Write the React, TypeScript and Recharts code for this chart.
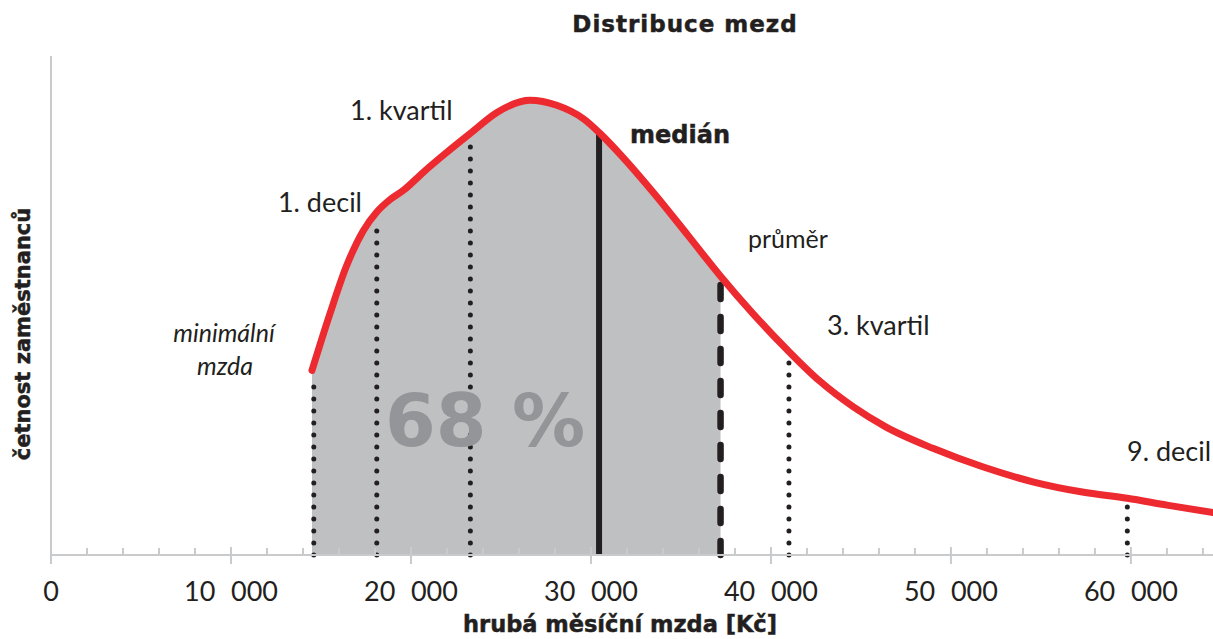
import { ComposedChart, Line, Area, XAxis, YAxis, ReferenceLine } from 'recharts';

// wage distribution curve (Kč / relative frequency)
const wages = [
  14500, 15500, 16400, 17350, 18100, 18800, 19600, 20700, 21800, 23300, 24800, 26600, 28100, 29600,
  30500, 31700, 33500, 35400, 37200, 39000, 40900, 42700, 44600, 46400, 49000, 51800, 54600, 57300,
  59800, 62000, 64560,
];
const frequency = [
  2.96, 3.87, 4.62, 5.2, 5.5, 5.69, 5.85, 6.14, 6.41, 6.76, 7.1, 7.29, 7.21, 6.99,
  6.76, 6.4, 5.8, 5.12, 4.47, 3.87, 3.29, 2.79, 2.37, 2.05, 1.71, 1.41, 1.17, 1.01,
  0.91, 0.8, 0.68,
];

// shaded part of the distribution (min. wage .. average)
const shadedFrom = 14500;
const shadedTo = 37200;

const markerNames = ['minimální mzda', '1. decil', '1. kvartil', 'medián', 'průměr', '3. kvartil', '9. decil'];
const markerWages = [14600, 18100, 23300, 30450, 37200, 41000, 59800];
const markerHeights = [2.85, 5.21, 6.57, 6.75, 4.38, 3.09, 0.77];

const xTicks = [
  0, 2000, 4000, 6000, 8000, 10000, 12000, 14000, 16000, 18000, 20000, 22000, 24000, 26000, 28000, 30000,
  32000, 34000, 36000, 38000, 40000, 42000, 44000, 46000, 48000, 50000, 52000, 54000, 56000, 58000, 60000,
  62000, 64000,
];
const xLabelValues = [0, 10000, 20000, 30000, 40000, 50000, 60000];
const xLabels = ['0', '10 000', '20 000', '30 000', '40 000', '50 000', '60 000'];
const yTicks = [0, 1, 2, 3, 4, 5, 6, 7, 8];

const RED = '#ed2a2f';
const INK = '#231f20';
const AXIS = '#c9cacc';
const SHADE = '#bfc0c2';

const rows = wages.map((w, i) => ({
  wage: w,
  freq: frequency[i],
  shade: w >= shadedFrom && w <= shadedTo ? frequency[i] : null,
}));

function XTick(props: any) {
  const { x, y, payload } = props;
  const idx = xLabelValues.indexOf(payload.value);
  const major = idx >= 0;
  return (
    <g>
      <line x1={x} x2={x} y1={major ? y - 8 : y - 7} y2={major ? y + 9 : y} stroke={AXIS} strokeWidth={2} />
      {major && (
        <text x={x} y={y + 46} textAnchor="middle" fontFamily="Lato" fontSize={27} fill={INK}>
          {xLabels[idx].replace(' ', '\u2007')}
        </text>
      )}
    </g>
  );
}

function markerStroke(name: string) {
  if (name === 'medián') return { strokeWidth: 6, strokeDasharray: undefined, strokeLinecap: 'butt' as const };
  if (name === 'průměr') return { strokeWidth: 6.5, strokeDasharray: '14 18', strokeLinecap: 'round' as const };
  return { strokeWidth: 5, strokeDasharray: '0 12', strokeLinecap: 'round' as const };
}

export default function App() {
  const regular = { fontFamily: 'Lato', fontSize: 27, fill: INK };
  const bold = { fontFamily: 'DejaVu Sans', fontWeight: 700, fill: INK, stroke: INK, strokeWidth: 0.5 };

  return (
    <div style={{ position: 'absolute', left: 0, top: 0, width: 1213, height: 639, background: '#fff' }}>
      <ComposedChart width={1213} height={639} data={rows} margin={{ top: 56, right: 0, left: 0, bottom: 0 }}>
        <XAxis
          dataKey="wage"
          type="number"
          domain={[0, 64560]}
          ticks={xTicks}
          interval={0}
          allowDataOverflow
          height={84}
          tickSize={0}
          tickMargin={0}
          tickLine={false}
          axisLine={{ stroke: AXIS, strokeWidth: 2 }}
          tick={<XTick />}
        />
        <YAxis
          type="number"
          domain={[0, 8]}
          ticks={yTicks}
          width={51}
          tick={false}
          tickSize={8}
          tickLine={{ stroke: AXIS, strokeWidth: 2 }}
          axisLine={{ stroke: AXIS, strokeWidth: 2 }}
        />
        <Area
          dataKey="shade"
          type="monotone"
          stroke="none"
          fill={SHADE}
          fillOpacity={1}
          isAnimationActive={false}
          dot={false}
          activeDot={false}
        />
        {markerNames.map((name, i) => (
          <ReferenceLine
            key={name}
            segment={[
              { x: markerWages[i], y: 0 },
              { x: markerWages[i], y: markerHeights[i] },
            ]}
            stroke={INK}
            {...markerStroke(name)}
          />
        ))}
        <Line
          dataKey="freq"
          type="monotone"
          stroke={RED}
          strokeWidth={7}
          strokeLinecap="round"
          dot={false}
          activeDot={false}
          isAnimationActive={false}
        />
      </ComposedChart>
      <svg width={1213} height={639} style={{ position: 'absolute', left: 0, top: 0, pointerEvents: 'none' }}>
        <text x={685} y={32} textAnchor="middle" fontSize={23} letterSpacing={1} {...bold}>
          Distribuce mezd
        </text>
        <text x={620} y={632} textAnchor="middle" fontSize={22.5} {...bold}>
          hrubá měsíční mzda [Kč]
        </text>
        <text x={30} y={334} textAnchor="middle" fontSize={21} transform="rotate(-90 30 334)" {...bold}>
          četnost zaměstnanců
        </text>
        <text x={485} y={446} textAnchor="middle" fontFamily="DejaVu Sans" fontWeight={700} fontSize={73} fill="#939598">
          68 %
        </text>
        <text x={224} y={342} textAnchor="middle" fontStyle="italic" {...regular} fontSize={25}>
          minimální
        </text>
        <text x={225} y={375} textAnchor="middle" fontStyle="italic" {...regular} fontSize={25}>
          mzda
        </text>
        <text x={362} y={212} textAnchor="end" {...regular}>
          1. decil
        </text>
        <text x={350} y={120} {...regular}>
          1. kvartil
        </text>
        <text x={630} y={143} fontSize={24} {...bold}>
          medián
        </text>
        <text x={748} y={248} {...regular} fontSize={25}>
          průměr
        </text>
        <text x={827} y={335} {...regular}>
          3. kvartil
        </text>
        <text x={1127} y={461} {...regular}>
          9. decil
        </text>
      </svg>
    </div>
  );
}
